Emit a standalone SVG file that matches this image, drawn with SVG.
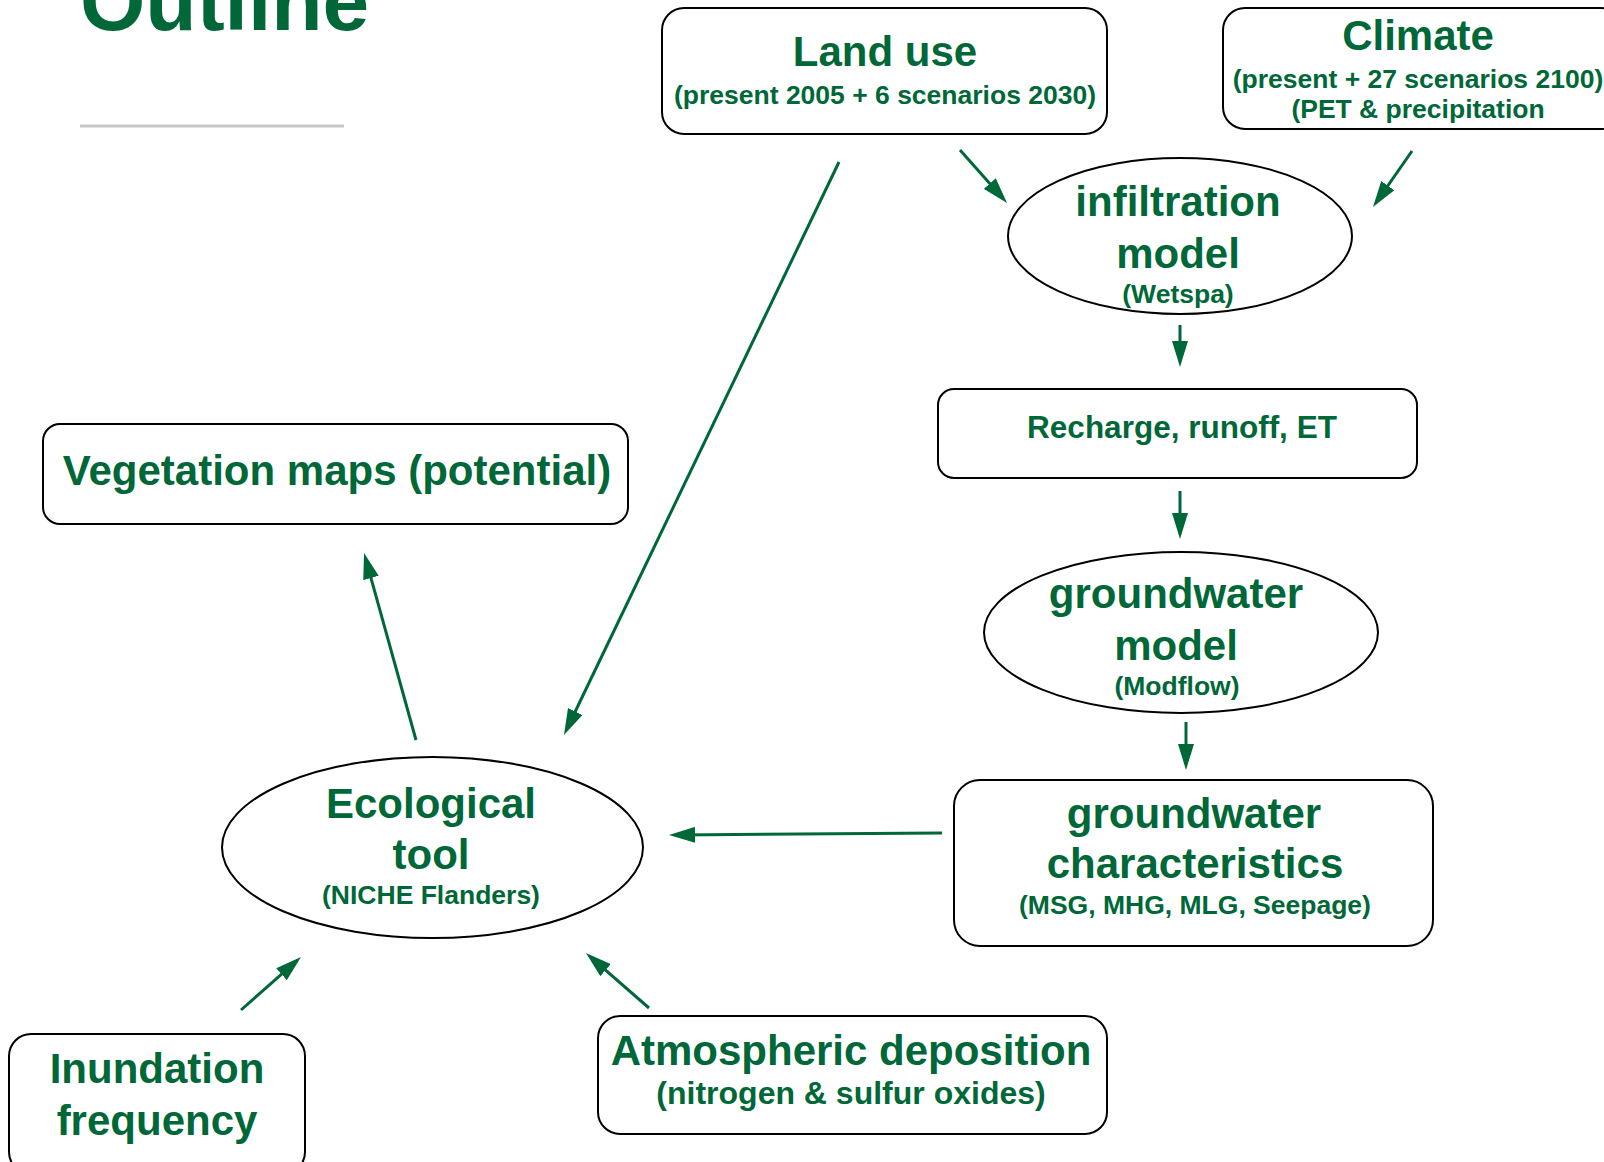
<svg xmlns="http://www.w3.org/2000/svg" width="1604" height="1162" viewBox="0 0 1604 1162">
<defs>
<style>
text{font-family:"Liberation Sans",Arial,sans-serif;font-weight:bold;fill:#006838;text-anchor:middle}
.box{fill:#fff;stroke:#000;stroke-width:2}
.big{font-size:42px}
.sub{font-size:26.5px}
.con line{stroke:#006838;stroke-width:3;marker-end:url(#ah)}
</style>
<marker id="ah" markerUnits="userSpaceOnUse" markerWidth="26" markerHeight="16" refX="16" refY="8" orient="auto">
<path d="M0,0 L26,8 L0,16 z" fill="#006838"/>
</marker>
</defs>
<rect width="1604" height="1162" fill="#fff"/>
<text x="80" y="30" style="font-size:84px;text-anchor:start">Outline</text>
<line x1="80" y1="126" x2="344" y2="126" stroke="#c8c8c8" stroke-width="3"/>

<g id="landuse">
<rect class="box" x="662" y="8" width="445" height="126" rx="22"/>
<text class="big" x="885" y="66">Land use</text>
<text class="sub" x="885" y="104">(present 2005 + 6 scenarios 2030)</text>
</g>
<g id="climate">
<rect class="box" x="1223" y="8" width="400" height="121" rx="22"/>
<text class="big" x="1418" y="50">Climate</text>
<text class="sub" x="1418" y="88">(present + 27 scenarios 2100)</text>
<text class="sub" x="1418" y="118">(PET &amp; precipitation</text>
</g>
<g id="infiltration">
<ellipse class="box" cx="1180" cy="236" rx="172" ry="78"/>
<text class="big" x="1178" y="216">infiltration</text>
<text class="big" x="1178" y="268">model</text>
<text class="sub" x="1178" y="303">(Wetspa)</text>
</g>
<g id="recharge">
<rect class="box" x="938" y="389" width="479" height="89" rx="16"/>
<text x="1182" y="438" style="font-size:31.5px">Recharge, runoff, ET</text>
</g>
<g id="gwmodel">
<ellipse class="box" cx="1181" cy="632.5" rx="197" ry="80.5"/>
<text class="big" x="1176" y="608">groundwater</text>
<text class="big" x="1176" y="660">model</text>
<text class="sub" x="1177" y="695">(Modflow)</text>
</g>
<g id="gwchar">
<rect class="box" x="954" y="780" width="479" height="166" rx="26"/>
<text class="big" x="1194" y="828">groundwater</text>
<text class="big" x="1195" y="878">characteristics</text>
<text class="sub" x="1195" y="914">(MSG, MHG, MLG, Seepage)</text>
</g>
<g id="vegetation">
<rect class="box" x="43" y="424" width="585" height="100" rx="17"/>
<text class="big" x="337" y="485">Vegetation maps (potential)</text>
</g>
<g id="ecological">
<ellipse class="box" cx="432.5" cy="847.5" rx="210.5" ry="90.5"/>
<text class="big" x="431" y="818">Ecological</text>
<text class="big" x="431" y="869">tool</text>
<text class="sub" x="431" y="904">(NICHE Flanders)</text>
</g>
<g id="inundation">
<rect class="box" x="9" y="1034" width="296" height="140" rx="22"/>
<text class="big" x="157" y="1083">Inundation</text>
<text class="big" x="157" y="1135">frequency</text>
</g>
<g id="atmospheric">
<rect class="box" x="598" y="1016" width="509" height="118" rx="22"/>
<text class="big" x="851" y="1065">Atmospheric deposition</text>
<text x="851" y="1104" style="font-size:32px">(nitrogen &amp; sulfur oxides)</text>
</g>

<g id="connectors" class="con">
<line x1="960" y1="150" x2="1000.4" y2="195.5"/>
<line x1="1412" y1="151" x2="1378.7" y2="198.8"/>
<line x1="1180" y1="325" x2="1180" y2="357"/>
<line x1="1180" y1="491" x2="1180" y2="529"/>
<line x1="1186" y1="722" x2="1186" y2="760"/>
<line x1="942" y1="833" x2="679" y2="835"/>
<line x1="416" y1="740" x2="366.7" y2="562.6"/>
<line x1="839" y1="162" x2="568.3" y2="726"/>
<line x1="241" y1="1010" x2="293.5" y2="963.6"/>
<line x1="649" y1="1008" x2="593.5" y2="959.6"/>
</g>
</svg>
